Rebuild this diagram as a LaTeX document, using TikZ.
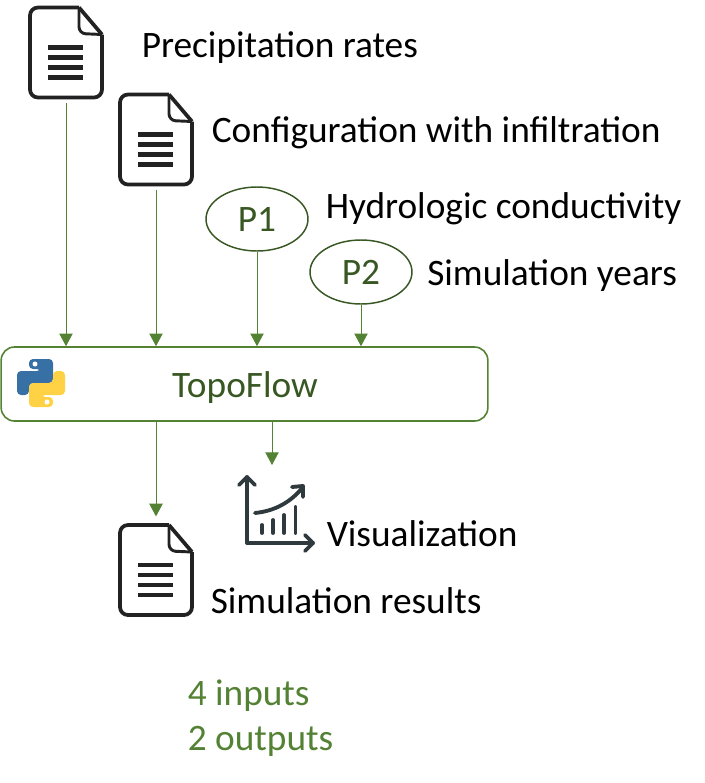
\documentclass[tikz,border=0pt]{standalone}
\usepackage{fontspec}
\setmainfont{Carlito}
\usetikzlibrary{shapes.geometric, arrows.meta, positioning}
\definecolor{flowgreen}{RGB}{84,130,53}
\definecolor{darkgreen}{RGB}{56,87,35}
\definecolor{iconblack}{RGB}{34,34,34}
\definecolor{icongray}{RGB}{47,58,63}
\definecolor{pyblue}{RGB}{54,112,165}
\definecolor{pyyellow}{RGB}{255,210,70}
\tikzset{
    docbox/.style={rectangle, minimum width=54pt, minimum height=68pt, inner sep=0pt},
    param/.style={ellipse, draw=darkgreen, line width=1.1pt, fill=white, inner sep=0pt, minimum width=76.5pt, minimum height=48pt, text=darkgreen, font=\fontsize{28}{28}\selectfont},
    toolbox/.style={rectangle, rounded corners=10pt, draw=flowgreen, line width=1.2pt, minimum width=365pt, minimum height=55.5pt},
    label/.style={anchor=base west, inner sep=0pt, font=\fontsize{28}{28}\selectfont},
    note/.style={label, text=flowgreen},
    flow/.style={-{Triangle[length=9.5pt, width=10pt]}, flowgreen, line width=0.7pt},
    docicon/.pic={
        \draw[iconblack, line width=2.8pt, rounded corners=6pt] (13,-45) -- (-36,-45) -- (-36,45) -- (36,45) -- (36,-18);
        \draw[iconblack, line width=2.8pt, line join=round] (13,-45) -- (36,-18);
        \draw[iconblack, line width=2.2pt, rounded corners=5pt] (13,-45) -- (13,-19) -- (36,-18);
        \foreach \yy in {-5,5,15,25}
            \draw[iconblack, line width=3.5pt] (-18,\yy) -- (17,\yy);
    }
}
\begin{document}
\begin{tikzpicture}[x=0.75pt, y=-0.75pt]
    \useasboundingbox (0,0) rectangle (705,783);

    % Input and output files
    \node[docbox] (doc1) at (66,52.5) {};
    \node[docbox] (doc2) at (156,139.5) {};
    \node[docbox] (doc3) at (156,570) {};
    \pic at (doc1) {docicon};
    \pic at (doc2) {docicon};
    \pic at (doc3) {docicon};

    % Parameters
    \node[param] (p1) at (257,219) {P1};
    \node[param] (p2) at (361,272) {P2};

    % Model
    \node[toolbox] (topoflow) at (244.5,384) {};
    \node[anchor=base, inner sep=0pt, text=darkgreen, font=\fontsize{28}{28}\selectfont] (topolabel) at (245,397) {TopoFlow};

    % Python logo
    \fill[pyblue, rounded corners=3pt] (29,359) -- (53,359) -- (53,383) -- (36,383) -- (29,383) -- (29,395) -- (17,395) -- (17,371) -- (41,371) -- (41,369) -- (29,369) -- cycle;
    \fill[pyyellow, rounded corners=3pt] (53,407) -- (29,407) -- (29,383) -- (46,383) -- (53,383) -- (53,371) -- (65,371) -- (65,395) -- (41,395) -- (41,397) -- (53,397) -- cycle;
    \fill[white] (35,364) circle (2.5) (47,402) circle (2.5);

    % Visualization icon
    \coordinate (vizin) at (272,465);
    \begin{scope}[icongray, line width=2.9pt, line cap=round, line join=round]
        \draw (239,485) -- (247,477) -- (255,485);
        \draw (247,477) -- (247,543) -- (313,543);
        \draw (305,535) -- (313,543) -- (305,551);
        \draw (255,513) .. controls (275,511) and (291,502) .. (303,487);
        \draw (292,487) -- (303,486) -- (303,497);
        \draw (262,525) -- (262,533);
        \draw (273,520) -- (273,533);
        \draw (284,515) -- (284,533);
        \draw (295.5,507) -- (295.5,533);
    \end{scope}

    % Labels
    \node[label] (lab1) at (141.5,57) {Precipitation rates};
    \node[label] (lab2) at (211.5,142) {Configuration with infiltration};
    \node[label] (lab3) at (325.5,218) {Hydrologic conductivity};
    \node[label] (lab4) at (427,285) {Simulation years};
    \node[label] (lab5) at (326.5,546) {Visualization};
    \node[label] (lab6) at (210.5,613) {Simulation results};
    \node[note] (count1) at (187.5,705) {4 inputs};
    \node[note] (count2) at (187.5,750) {2 outputs};

    % Inputs
    \draw[flow, shorten <=4pt] (doc1.south) -- (doc1.south |- topoflow.north);
    \draw[flow, shorten <=4pt] (doc2.south) -- (doc2.south |- topoflow.north);
    \draw[flow] (p1) -- (p1 |- topoflow.north);
    \draw[flow] (p2) -- (p2 |- topoflow.north);

    % Outputs
    \draw[flow, shorten >=6pt] (topoflow.south -| doc3.north) -- (doc3.north);
    \draw[flow] (topoflow.south -| vizin) -- (vizin);
\end{tikzpicture}
\end{document}
